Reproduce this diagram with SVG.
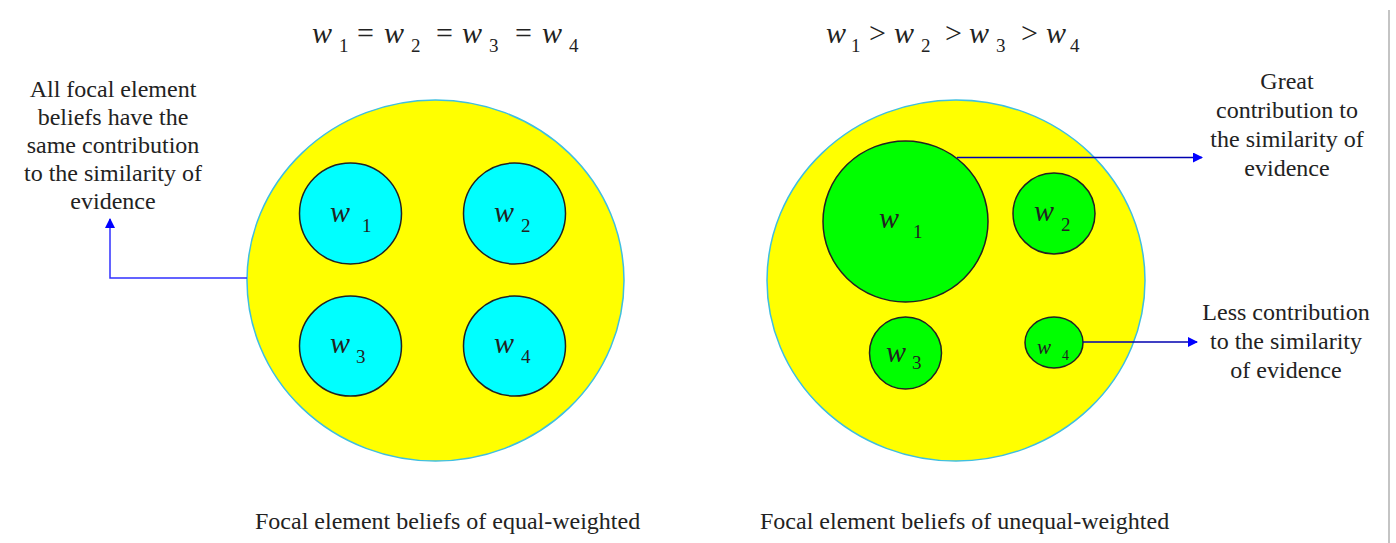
<svg xmlns="http://www.w3.org/2000/svg" width="1396" height="543" viewBox="0 0 1396 543">
<style>
.lbl{font-family:"Liberation Serif","Times New Roman",serif;font-size:24px;fill:#222;text-anchor:middle}
.cap{font-family:"Liberation Serif","Times New Roman",serif;font-size:24px;fill:#222}
.w{font-family:"Liberation Serif","Times New Roman",serif;font-style:italic;font-size:30px;fill:#222}
.s{font-family:"Liberation Serif","Times New Roman",serif;font-size:19px;fill:#222}
.op{font-family:"Liberation Serif","Times New Roman",serif;font-size:30px;fill:#222}
.big{fill:#ffff00;stroke:#3fbfe0;stroke-width:1.5}
.cy{fill:#00ffff;stroke:#222;stroke-width:1.5}
.gr{fill:#00ff00;stroke:#222;stroke-width:1.5}
.con{fill:none;stroke-width:1.5}
</style>
<defs>
<marker id="ah" viewBox="0 0 10 10" refX="9" refY="5" markerWidth="10" markerHeight="10" markerUnits="userSpaceOnUse" orient="auto">
<path d="M0,0 L10,5 L0,10 z" fill="#0000ff"/>
</marker>
</defs>
<rect width="1396" height="543" fill="#ffffff"/>
<line x1="1389" y1="10" x2="1389" y2="543" stroke="#b0b0b0" stroke-width="1.5"/>

<g id="formula-left">
<text class="w" x="312" y="43">w</text><text class="s" x="339" y="52">1</text>
<text class="op" x="357" y="43">=</text>
<text class="w" x="384" y="43">w</text><text class="s" x="411" y="52">2</text>
<text class="op" x="436" y="43">=</text>
<text class="w" x="462" y="43">w</text><text class="s" x="489" y="52">3</text>
<text class="op" x="515" y="43">=</text>
<text class="w" x="542" y="43">w</text><text class="s" x="569" y="52">4</text>
</g>
<g id="formula-right">
<text class="w" x="826" y="43">w</text><text class="s" x="851" y="52">1</text>
<text class="op" x="869" y="43">&gt;</text>
<text class="w" x="894" y="43">w</text><text class="s" x="921" y="52">2</text>
<text class="op" x="945" y="43">&gt;</text>
<text class="w" x="969" y="43">w</text><text class="s" x="996" y="52">3</text>
<text class="op" x="1021" y="43">&gt;</text>
<text class="w" x="1046" y="43">w</text><text class="s" x="1070" y="52">4</text>
</g>

<g id="set-equal">
<ellipse class="big" cx="435.5" cy="280.5" rx="188.5" ry="180.5"/>
</g>
<g id="eq-w1"><ellipse class="cy" cx="350.5" cy="213.5" rx="51" ry="50.5"/><text class="w" x="330" y="222">w</text><text class="s" x="362" y="232">1</text></g>
<g id="eq-w2"><ellipse class="cy" cx="514.5" cy="213.5" rx="51" ry="50.5"/><text class="w" x="494" y="222">w</text><text class="s" x="521" y="232">2</text></g>
<g id="eq-w3"><ellipse class="cy" cx="350.5" cy="346" rx="51" ry="50"/><text class="w" x="330" y="353">w</text><text class="s" x="356" y="363">3</text></g>
<g id="eq-w4"><ellipse class="cy" cx="514.5" cy="346" rx="51" ry="50"/><text class="w" x="494" y="353">w</text><text class="s" x="521" y="363">4</text></g>

<g id="set-unequal">
<ellipse class="big" cx="956" cy="280.5" rx="189" ry="180.5"/>
</g>
<g id="un-w1"><ellipse class="gr" cx="905.5" cy="221.5" rx="82.5" ry="80.5"/><text class="w" x="879" y="228">w</text><text class="s" x="913" y="238">1</text></g>
<g id="un-w2"><ellipse class="gr" cx="1054" cy="213.5" rx="41" ry="40.5"/><text class="w" x="1034" y="221">w</text><text class="s" x="1061" y="231">2</text></g>
<g id="un-w3"><ellipse class="gr" cx="905.5" cy="353" rx="36" ry="36"/><text class="w" x="886" y="362">w</text><text class="s" x="912" y="369">3</text></g>
<g id="un-w4"><ellipse class="gr" cx="1054" cy="342.5" rx="29" ry="25.5"/><text class="w" x="1037" y="354" style="font-size:21px">w</text><text class="s" x="1062" y="360" style="font-size:14px">4</text></g>

<g id="connectors">
<polyline class="con" stroke="#3030ff" points="247,278 110,278 110,219" marker-end="url(#ah)"/>
<line class="con" stroke="#0000b0" x1="957" y1="157.5" x2="1202" y2="157.5" marker-end="url(#ah)"/>
<line class="con" stroke="#0000b0" x1="1083" y1="342" x2="1197" y2="342" marker-end="url(#ah)"/>
</g>

<g id="note-left">
<text class="lbl" x="113" y="97">All focal element</text>
<text class="lbl" x="113" y="125">beliefs have the</text>
<text class="lbl" x="113" y="153">same contribution</text>
<text class="lbl" x="113" y="181">to the similarity of</text>
<text class="lbl" x="113" y="209">evidence</text>
</g>
<g id="note-great">
<text class="lbl" x="1287" y="89">Great</text>
<text class="lbl" x="1287" y="118">contribution to</text>
<text class="lbl" x="1287" y="147">the similarity of</text>
<text class="lbl" x="1287" y="176">evidence</text>
</g>
<g id="note-less">
<text class="lbl" x="1286" y="320">Less contribution</text>
<text class="lbl" x="1286" y="349">to the similarity</text>
<text class="lbl" x="1286" y="378">of evidence</text>
</g>
<g id="captions">
<text class="cap" x="255" y="529">Focal element beliefs of equal-weighted</text>
<text class="cap" x="760" y="529">Focal element beliefs of unequal-weighted</text>
</g>
</svg>
